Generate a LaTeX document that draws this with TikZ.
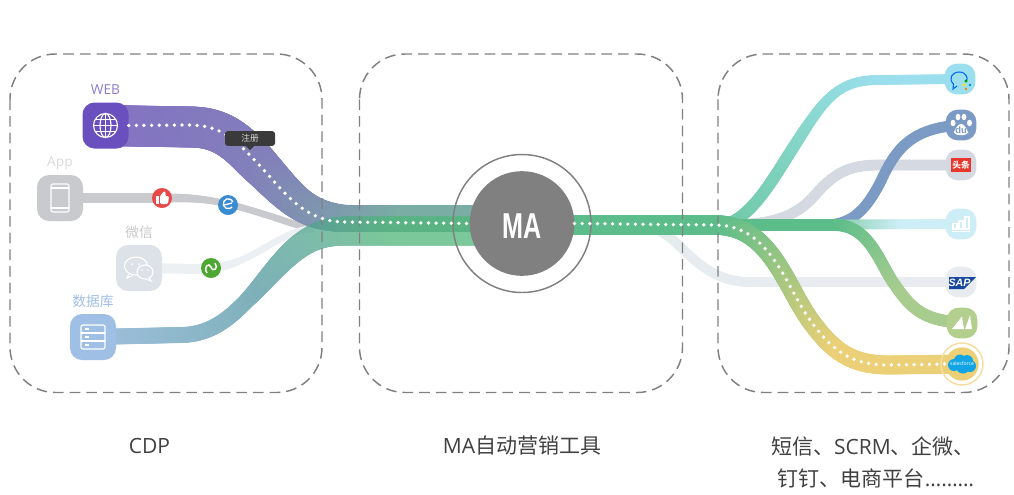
\documentclass[tikz,border=0pt]{standalone}
\usepackage{xcolor}
\usepackage{fontspec}
\setmainfont{Open Sans}
\newfontfamily\cjk{Noto Sans CJK SC}
\newfontfamily\logofont{Liberation Sans}
\usetikzlibrary{positioning,backgrounds,decorations.markings}

\definecolor{webviolet}{HTML}{6A50BE}
\definecolor{webstart}{HTML}{8470C4}
\definecolor{webmid}{HTML}{8280BA}
\definecolor{webend}{HTML}{7AADA3}
\definecolor{appgray}{HTML}{C8CACE}
\definecolor{wxgray}{HTML}{DDE1E8}
\definecolor{wxline}{HTML}{EDF0F3}
\definecolor{datablue}{HTML}{A0BFE4}
\definecolor{dataone}{HTML}{80AAD5}
\definecolor{datatwo}{HTML}{5296A0}
\definecolor{datathree}{HTML}{4FB678}
\definecolor{maingreen}{HTML}{5CBD8A}
\definecolor{mainyellow}{HTML}{EBD077}
\definecolor{ringyellow}{HTML}{F6DDA0}
\definecolor{skystart}{HTML}{6FC8A5}
\definecolor{skymid}{HTML}{85D6C8}
\definecolor{skyblue}{HTML}{9BDFEF}
\definecolor{baidublue}{HTML}{7B9AC4}
\definecolor{ttgray}{HTML}{D5D9E1}
\definecolor{icecyan}{HTML}{CDEEF6}
\definecolor{icemid}{HTML}{70C195}
\definecolor{sapstart}{HTML}{D9EAE5}
\definecolor{sapmid}{HTML}{E6ECEF}
\definecolor{sapgray}{HTML}{E8ECF1}
\definecolor{sapblue}{HTML}{17479E}
\definecolor{mkgreen}{HTML}{B2CF8E}
\definecolor{mkend}{HTML}{A8CC8E}
\definecolor{thumbred}{HTML}{E84848}
\definecolor{ebadgeblue}{HTML}{3A8CD0}
\definecolor{linkgreen}{HTML}{4CA832}
\definecolor{cloudblue}{HTML}{12A5E6}
\definecolor{ttred}{HTML}{E8362A}
\definecolor{tagdark}{HTML}{3A3A3A}

% one stamp of a ribbon: three colours, two widths
\newcommand{\ribbonstamp}[5]{%
  \pgfmathsetmacro\ribpos{\pgfkeysvalueof{/pgf/decoration/mark info/distance from start}/\pgfdecoratedpathlength*100}%
  \ifdim\ribpos pt<40pt
    \pgfmathsetmacro\ribmix{\ribpos/0.4}\colorlet{ribcol}{#2!\ribmix!#1}%
  \else
    \pgfmathsetmacro\ribmix{min(100,(\ribpos-40)/0.35)}\colorlet{ribcol}{#3!\ribmix!#2}%
  \fi
  \pgfmathsetmacro\ribwd{#4+(#5-#4)*max(0,min(1,(\ribpos-35)/25))}%
  \fill[ribcol] (0,0) circle [radius=\ribwd/2];}

\begin{document}
\begin{tikzpicture}[
    x=0.75pt, y=-0.75pt,
    ribbon/.style n args={5}{decorate, decoration={markings,
        mark=between positions 0 and 1 step 1pt with {\ribbonstamp{#1}{#2}{#3}{#4}{#5}}}},
    source/.style={rectangle, rounded corners=9pt, minimum size=34.5pt, inner sep=0pt},
    target/.style={rectangle, rounded corners=9pt, minimum size=23pt, inner sep=0pt},
    badge/.style={circle, minimum size=15pt, inner sep=0pt},
    srclbl/.style={font=\fontsize{10.3pt}{12pt}\selectfont, inner sep=0pt},
    baselbl/.style={font=\fontsize{15.75pt}{19pt}\selectfont, text=black!75, inner sep=0pt},
    zone/.style={draw=black!50, line width=1.1pt, dash pattern=on 8pt off 4.5pt, rounded corners=34pt},
    dotline/.style={draw=white, line width=2.8pt, line cap=round, dash pattern=on 0pt off 5.7pt},
    icon/.style={draw=white, line width=0.85pt}
]
\useasboundingbox (0,0) rectangle (1014,494);

\node[source, fill=webviolet] (web) at (105.5,125.5) {};
\node[source, fill=appgray] (app) at (60,198) {};
\node[source, fill=wxgray] (wx) at (139,268) {};
\node[source, fill=datablue] (data) at (93,337) {};

\node[srclbl, text=webviolet!75, above=5.5pt of web] (weblbl) {WEB};
\node[srclbl, text=black!15, above=3.5pt of app] (applbl) {App};
\node[srclbl, text=black!22, above=4.5pt of wx] (wxlbl) {\cjk 微信};
\node[srclbl, text=datablue, above=4.5pt of data] (datalbl) {\cjk 数据库};

\node[circle, fill=black!50, minimum size=78.5pt, inner sep=0pt] (ma) at (522,223.5) {};
\node[text=white, xscale=0.7, inner sep=0pt, font=\logofont\bfseries\fontsize{27pt}{30pt}\selectfont] (malbl) at (522,226) {MA};
\draw[black!50, line width=1.1pt] (ma.center) circle [radius=69];

\node[target, fill=skyblue] (qq) at (960,79) {};
\node[target, fill=baidublue] (baidu) at (961,125) {};
\node[target, fill=ttgray] (tt) at (961,165) {};
\node[target, fill=icecyan] (cyan) at (961,224) {};
\node[target, fill=sapgray] (sap) at (961,282) {};
\node[target, fill=mkgreen] (mk) at (962,323) {};
\node[circle, fill=mainyellow, minimum size=25pt, inner sep=0pt] (sf) at (962,364) {};
\draw[ringyellow, line width=1.1pt] (sf.center) circle [radius=21];

\coordinate (hubr) at (725,225);

\begin{scope}[on background layer]
\draw[ribbon={appgray}{appgray}{appgray}{10}{7}] (app.center) -- (175,198) .. controls (215,198) and (240,207) .. (265,214.5) .. controls (280,219) and (295,225) .. (312,229);
\draw[ribbon={wxline}{wxline}{wxline}{10}{7}] (wx.center) -- (200,269) .. controls (240,269) and (265,245) .. (285,237) .. controls (295,232) and (300,230) .. (312,229);
\draw[ribbon={webstart}{webmid}{webend}{41}{27}] (web.center) -- (190,127) .. controls (225,127) and (240,145) .. (262,168) .. controls (290,197) and (305,218) .. (350,218.5) -- (495,218.5) -- (ma.center);
\begin{scope}[transparency group, opacity=0.75]
\draw[ribbon={dataone}{datatwo}{datathree}{16}{29}] (data.center) -- (180,335) .. controls (215,335) and (235,313) .. (255,292) .. controls (285,258) and (305,231) .. (345,231) -- (495,231) -- (ma.center);
\end{scope}
\draw[ribbon={skystart}{skymid}{skyblue}{12}{10}] (hubr) .. controls (755,215) and (775,175) .. (800,137) .. controls (825,98) and (840,80) .. (878,80) -- (qq.center);
\draw[ribbon={ttgray}{ttgray}{ttgray}{11}{11}] (hubr) .. controls (770,225) and (795,218) .. (815,195) .. controls (835,172) and (850,165) .. (880,165) -- (tt.center);
\draw[ribbon={baidublue}{baidublue}{baidublue}{11}{11}] (hubr) -- (825,225) .. controls (855,225) and (868,205) .. (880,183) .. controls (895,150) and (910,128) .. (baidu.center);
\draw[ribbon={maingreen}{icemid}{icecyan}{10}{10}] (hubr) -- (cyan.center);
\draw[ribbon={sapstart}{sapmid}{sapgray}{10}{10}] (ma.center) -- (650,228) .. controls (680,232) and (695,282) .. (750,282) -- (sap.center);
\draw[ribbon={maingreen}{maingreen}{mkend}{12}{12}] (hubr) -- (835,225) .. controls (870,225) and (880,265) .. (895,285) .. controls (915,315) and (930,320) .. (mk.center);
\draw[ribbon={maingreen}{maingreen}{mainyellow}{20}{19}] (ma.center) -- (545,225) -- (715,225) .. controls (770,225) and (785,285) .. (810,320) .. controls (835,355) and (855,365) .. (890,365) -- (sf.center);
\end{scope}

\draw[zone] (10,54) rectangle (322,392.5);
\draw[zone] (359.5,54) rectangle (682.5,392.5);
\draw[zone] (718,54) rectangle (1009,392.5);

\draw[dotline] (web.east) -- (190,125) .. controls (225,125) and (240,145) .. (262,168) .. controls (285,193) and (305,222) .. (345,222) -- (ma.west);
\draw[dotline] (ma.east) -- (715,225) .. controls (770,225) and (785,285) .. (810,320) .. controls (835,355) and (855,365) .. (890,365) -- (sf.west);

\node[fill=tagdark, rounded corners=2pt, minimum width=37.5pt, minimum height=11pt, inner sep=0pt, text=black!15, font=\cjk\fontsize{6.5pt}{8pt}\selectfont] (tag) at (250,138.5) {注册};
\fill[tagdark] ([xshift=-3pt]tag.south) -- ([xshift=3pt]tag.south) -- ([yshift=-3pt]tag.south) -- cycle;

% badges on the app and wechat lines
\node[badge, fill=thumbred] (thumb) at (162,198) {};
\node[badge, fill=ebadgeblue] (ebadge) at (228,205) {};
\node[badge, fill=linkgreen] (link) at (211,268) {};
\fill[white] (156,196) rectangle (159,204);
\fill[white, rounded corners=1pt] (160,196) -- (164,191) -- (166,192) -- (165,196) -- (169,196) -- (168,204) -- (160,204) -- cycle;
\draw[icon, line width=1pt] (233,202) arc [start angle=-20, end angle=-320, radius=5];
\draw[icon, line width=1pt] (224,205) -- (232,203);
\draw[icon, line width=1.1pt] (207,273) .. controls (203,267) and (209,262) .. (211,267) .. controls (213,273) and (219,268) .. (215,263);

% source icons
\begin{scope}[shift={(web.center)}]
\draw[icon] (0,0) circle [radius=12];
\draw[icon] (0,0) ellipse [x radius=5.5, y radius=12];
\draw[icon] (0,-12) -- (0,12) (-12,0) -- (12,0) (-10.5,-6) -- (10.5,-6) (-10.5,6) -- (10.5,6);
\end{scope}
\begin{scope}[shift={(app.center)}]
\draw[icon, rounded corners=1.5pt] (-9,-14) rectangle (9,14);
\draw[icon] (-9,-10) -- (9,-10) (-9,10) -- (9,10);
\end{scope}
\begin{scope}[shift={(wx.center)}]
\draw[icon, fill=wxgray] (-10,6) -- (-12,10) -- (-6,7.5);
\draw[icon, fill=wxgray] (-3,-2) ellipse [x radius=11.5, y radius=9];
\draw[icon, fill=wxgray] (6,4) ellipse [x radius=8, y radius=7];
\draw[icon, fill=wxgray] (10,9) -- (12,13) -- (7,11);
\fill[white] (-7,-4) circle [radius=1] (0,-4) circle [radius=1] (3,2) circle [radius=0.9] (9,2) circle [radius=0.9];
\end{scope}
\begin{scope}[shift={(data.center)}]
\draw[icon, rounded corners=1.5pt] (-12,-12) rectangle (12,12);
\draw[icon] (-12,-4) -- (12,-4) (-12,4) -- (12,4) (-8,-8) -- (-4,-8) (-8,0) -- (-4,0) (-8,8) -- (-4,8);
\end{scope}

% target logos
\begin{scope}[shift={(qq.center)}]
\draw[blue!60!cyan, line width=0.8pt] (-3,7) -- (-7,10) -- (-6.5,5) .. controls (-12,0) and (-8,-7) .. (-1,-7) .. controls (6,-7) and (9,-1) .. (6,3);
\fill[green!60!black] (6,2) circle [radius=1.6];
\fill[yellow!85!orange] (4,6) circle [radius=1.6];
\fill[orange] (6,10) circle [radius=1.4];
\fill[cyan!70!blue] (10,6) circle [radius=1.4];
\end{scope}
\begin{scope}[shift={(baidu.center)}]
\fill[white] (-8,-2) ellipse [x radius=2.5, y radius=3.2] (-3,-8) ellipse [x radius=2.4, y radius=3.2] (3,-8) ellipse [x radius=2.4, y radius=3.2] (8.5,-2) ellipse [x radius=2.5, y radius=3.2];
\fill[white, rounded corners=3pt] (0,-3) -- (7,5) -- (7,10) -- (-7,10) -- (-7,5) -- cycle;
\node[text=baidublue, inner sep=0pt, font=\logofont\bfseries\fontsize{7pt}{8pt}\selectfont] (dulbl) at (0,5.5) {du};
\end{scope}
\node[fill=ttred, text=white, minimum width=15.5pt, minimum height=10pt, inner sep=0pt, font=\cjk\bfseries\fontsize{6.5pt}{8pt}\selectfont] (ttlbl) at (tt.center) {头条};
\begin{scope}[shift={(cyan.center)}]
\draw[icon] (-8,-0.5) rectangle (-4,5) (-2,-3) rectangle (2,5) (4,-7) rectangle (8,5);
\draw[icon] (-9,7.5) -- (9,7.5);
\end{scope}
\fill[sapblue] (949,277) -- (976,277) -- (964,289) -- (949,289) -- cycle;
\node[text=white, inner sep=0pt, font=\logofont\bfseries\itshape\fontsize{8pt}{9pt}\selectfont] (saplbl) at (959.5,283) {SAP};
\fill[white] (952,329) -- (962,316.5) -- (964,329) -- cycle;
\fill[white] (965,329) -- (970,315) -- (972,329) -- cycle;
\begin{scope}[shift={(sf.center)}]
\fill[cloudblue] (-8,1) circle [radius=6] (-2,-3.5) circle [radius=6] (5,-3) circle [radius=6] (8,2) circle [radius=6] (1,3) ellipse [x radius=7, y radius=6.5];
\node[text=white, inner sep=0pt, font=\fontsize{3.8pt}{4pt}\selectfont] (sflbl) at (0,0) {salesforce};
\end{scope}

\node[baselbl] (cdplbl) at (149.5,446) {CDP};
\node[baselbl] (malabel) at (522,446) {MA{\cjk 自动营销工具}};
\node[baselbl] (toollbl) at (873,446) {{\cjk 短信、}SCRM{\cjk 、企微、}};
\node[baselbl] (shoplbl) at (876,478) {{\cjk 钉钉、电商平台}………};
\end{tikzpicture}
\end{document}
